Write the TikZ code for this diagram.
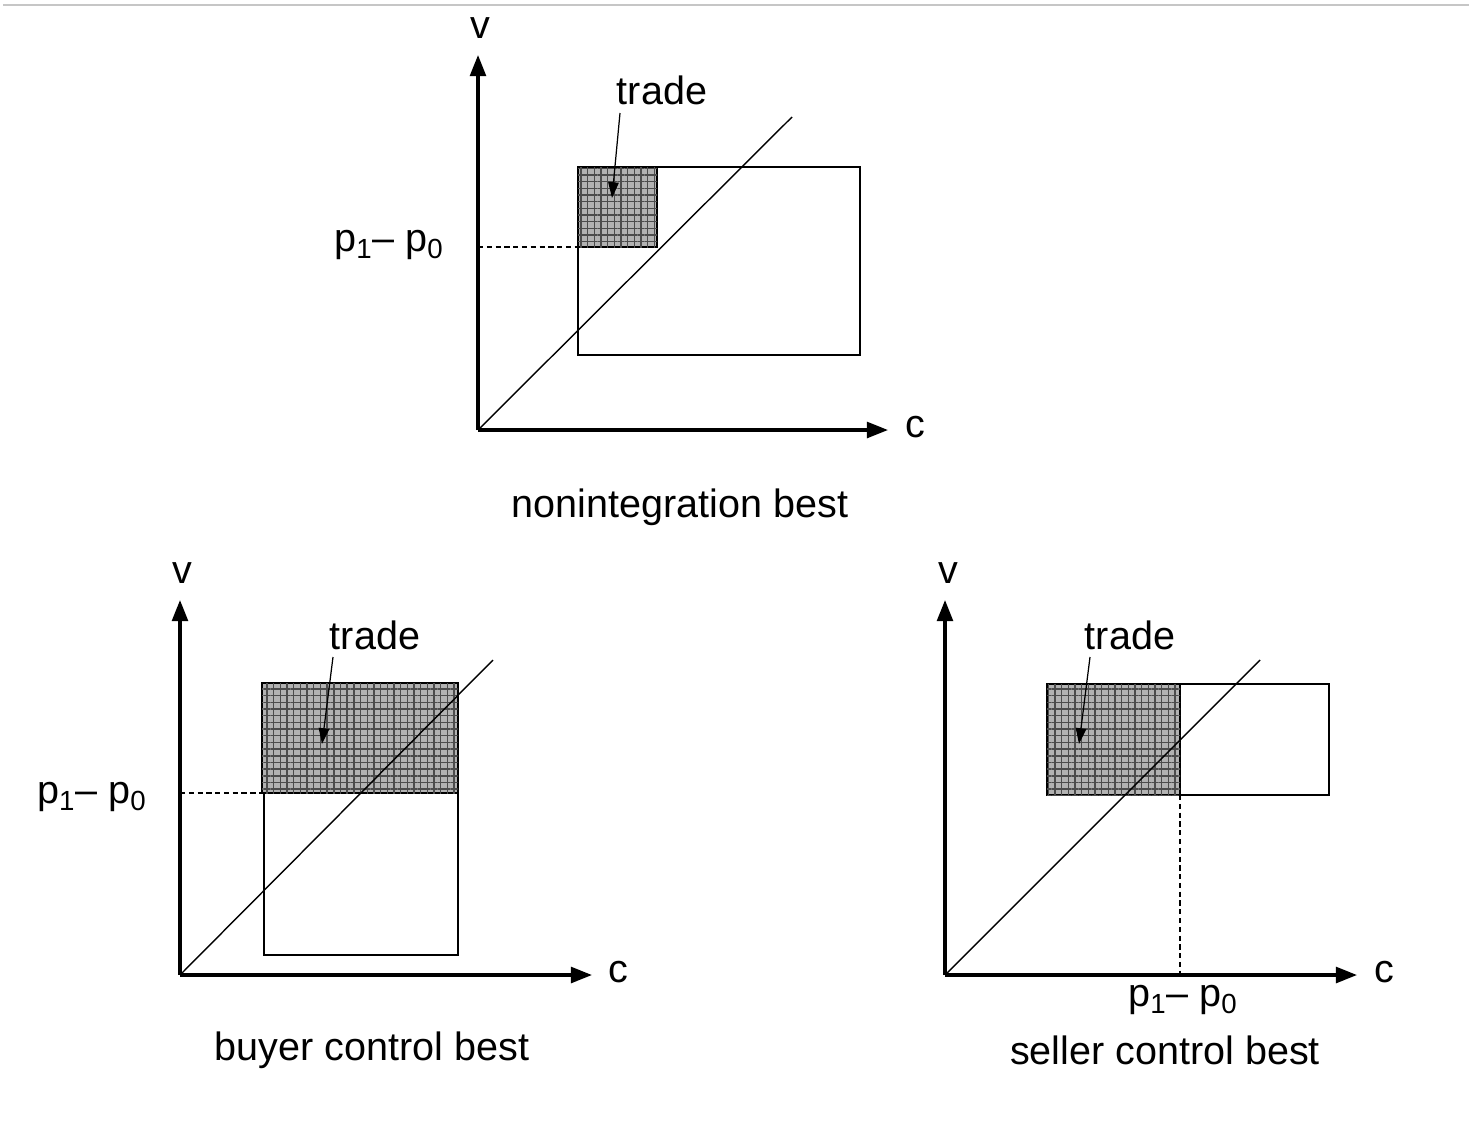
\documentclass[tikz,border=0pt]{standalone}
\usepackage{fontspec}
\setmainfont{Liberation Sans}
\usetikzlibrary{arrows.meta,patterns.meta}

\begin{document}
\begin{tikzpicture}[x=0.02cm, y=-0.02cm,
    axis/.style={line width=1.8pt, -{Triangle[length=12pt, width=9pt]}},
    diag/.style={line width=0.8pt},
    region/.style={draw, line width=1.1pt},
    tradebox/.style={draw, line width=1.1pt, fill=gray!60,
      postaction={pattern={Lines[angle=0, distance=3.8pt, line width=0.8pt]}, pattern color=black!70},
      postaction={pattern={Lines[angle=90, distance=3.8pt, line width=0.8pt]}, pattern color=black!70}},
    guide/.style={line width=0.6pt, dash pattern=on 3pt off 2pt},
    pointer/.style={line width=0.7pt, -{Triangle[length=9pt, width=6pt]}},
    lbl/.style={font=\fontsize{22.5}{27}\selectfont, inner sep=0pt}]
    \useasboundingbox (0,0) rectangle (1469,1123);
    \draw[gray!45, line width=1.2pt] (3,5) -- (1469,5);

    % Top: nonintegration best
    \coordinate (o1) at (478,430);
    \coordinate (y1) at (478,55);
    \coordinate (x1) at (888,430);
    \coordinate (d1) at (792,117);
    \draw[region] (578,167) rectangle (860,355);
    \draw[tradebox] (578,167) rectangle (657,247);
    \coordinate (p1) at (578,247);
    \draw[diag] (o1) -- (d1);
    \draw[axis] (o1) -- (y1);
    \draw[axis] (o1) -- (x1);
    \coordinate (q1) at (o1 |- p1);
    \draw[guide] (q1) -- (p1);
    \node[lbl] (v1) at (480,28) {v};
    \node[lbl] (c1) at (915,427) {c};
    \node[lbl] (pp1) at (389,245) {p\textsubscript{1}– p\textsubscript{0}};
    \node[lbl] (t1) at (662,90) {trade};
    \coordinate (a1) at (612,198);
    \draw[pointer] (620,113) -- (a1);
    \node[lbl] (n1) at (680,507) {nonintegration best};

    % Bottom left: buyer control best
    \coordinate (o2) at (180,975);
    \coordinate (y2) at (180,600);
    \coordinate (x2) at (592,975);
    \coordinate (d2) at (493,660);
    \draw[region] (264,683) rectangle (458,955);
    \draw[tradebox] (262,683) rectangle (458,793);
    \coordinate (p2) at (262,793);
    \draw[diag] (o2) -- (d2);
    \draw[axis] (o2) -- (y2);
    \draw[axis] (o2) -- (x2);
    \coordinate (q2) at (o2 |- p2);
    \draw[guide] (q2) -- (p2);
    \node[lbl] (v2) at (182,573) {v};
    \node[lbl] (c2) at (618,972) {c};
    \node[lbl] (pp2) at (92,797) {p\textsubscript{1}– p\textsubscript{0}};
    \node[lbl] (t2) at (375,635) {trade};
    \coordinate (a2) at (322,744);
    \draw[pointer] (333,657) -- (a2);
    \node[lbl] (n2) at (372,1050) {buyer control best};

    % Bottom right: seller control best
    \coordinate (o3) at (945,975);
    \coordinate (y3) at (945,600);
    \coordinate (x3) at (1357,975);
    \coordinate (d3) at (1260,660);
    \draw[region] (1047,684) rectangle (1329,795);
    \draw[tradebox] (1047,684) rectangle (1180,795);
    \coordinate (p3) at (1180,795);
    \draw[diag] (o3) -- (d3);
    \draw[axis] (o3) -- (y3);
    \draw[axis] (o3) -- (x3);
    \coordinate (q3) at (p3 |- o3);
    \draw[guide] (p3) -- (q3);
    \node[lbl] (v3) at (948,573) {v};
    \node[lbl] (c3) at (1384,972) {c};
    \node[lbl] (pp3) at (1183,1000) {p\textsubscript{1}– p\textsubscript{0}};
    \node[lbl] (t3) at (1130,635) {trade};
    \coordinate (a3) at (1079,744);
    \draw[pointer] (1090,657) -- (a3);
    \node[lbl] (n3) at (1165,1050) {seller control best};
\end{tikzpicture}
\end{document}
